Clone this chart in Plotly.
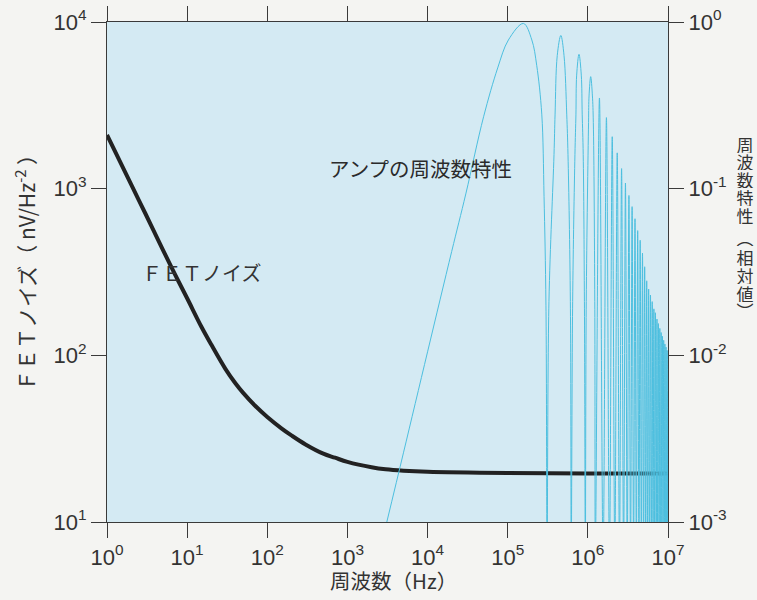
import plotly.graph_objects as go

# ---------------- data ----------------
fet_freq = [1, 2, 3, 5, 7, 10, 15, 20, 30, 40, 50, 70, 100, 150, 200, 300, 500, 700,
            1e3, 2e3, 3e3, 5e3, 1e4, 1e5, 1e6, 1e7]
fet_noise = [2100, 1060, 712, 428, 308, 220, 149, 116, 83, 68, 59.5, 50, 42.7, 36.5, 33.1, 29.2,
             25.7, 24.3, 22.95, 21.3, 20.7, 20.3, 20.0, 19.67, 19.56, 19.54]

# amplifier response: rise + main lobe, then side lobes (zeros drawn just below the axis floor)
amp_freq = [
    3.1e3, 5e3, 1e4, 2e4, 3e4, 5e4, 7.5e4, 1.02e5, 1.57e5, 2.0e5, 2.3e5, 2.66e5, 2.84e5, 3.0e5, 3.1e5,
    3.27e5, 3.78e5, 3.9e5, 4.15e5, 4.6e5, 5.04e5, 5.45e5, 5.65e5, 6.05e5, 6.2e5,
    6.46e5, 6.9e5, 7.1e5, 7.25e5, 7.75e5, 8.28e5, 8.5e5, 8.75e5, 9.06e5, 9.3e5,
    9.55e5, 1.02e6, 1.035e6, 1.085e6, 1.14e6, 1.17e6, 1.22e6, 1.24e6,
    1.395e6, 1.55e6, 1.705e6, 1.86e6, 2.015e6, 2.17e6, 2.325e6, 2.48e6,
    2.635e6, 2.79e6, 2.945e6, 3.1e6, 3.255e6, 3.41e6, 3.565e6, 3.72e6,
    3.875e6, 4.03e6, 4.185e6, 4.34e6, 4.495e6, 4.65e6, 4.805e6, 4.96e6,
    5.115e6, 5.27e6, 5.425e6, 5.58e6, 5.735e6, 5.89e6, 6.045e6, 6.2e6,
    6.355e6, 6.51e6, 6.665e6, 6.82e6, 6.975e6, 7.13e6, 7.285e6, 7.44e6,
    7.595e6, 7.75e6, 7.905e6, 8.06e6, 8.215e6, 8.37e6, 8.525e6, 8.68e6,
    8.835e6, 8.99e6, 9.145e6, 9.3e6, 9.455e6, 9.61e6, 9.765e6, 9.92e6, 1e7,
]
amp_resp = [
    1.0e-3, 2.6e-3, 1.05e-2, 4.2e-2, 9.3e-2, 0.27, 0.53, 0.78, 0.98, 0.78, 0.55, 0.28, 0.09, 0.02, 6e-4,
    0.021, 0.16, 0.28, 0.63, 0.83, 0.63, 0.28, 0.16, 0.021, 6e-4,
    0.021, 0.16, 0.28, 0.48, 0.64, 0.48, 0.28, 0.16, 0.021, 6e-4,
    0.021, 0.25, 0.36, 0.47, 0.36, 0.25, 0.021, 6e-4,
    0.35, 6e-4, 0.267, 6e-4, 0.205, 6e-4, 0.164, 6e-4,
    0.132, 6e-4, 0.108, 6e-4, 0.091, 6e-4, 0.078, 6e-4,
    0.066, 6e-4, 0.056, 6e-4, 0.049, 6e-4, 0.041, 6e-4,
    0.034, 6e-4, 0.028, 6e-4, 0.025, 6e-4, 0.023, 6e-4,
    0.021, 6e-4, 0.019, 6e-4, 0.018, 6e-4, 0.0165, 6e-4,
    0.0155, 6e-4, 0.0145, 6e-4, 0.0137, 6e-4, 0.013, 6e-4,
    0.0123, 6e-4, 0.0117, 6e-4, 0.0112, 6e-4, 0.0107, 6e-4, 0.006,
]

x_ticks = [1, 10, 100, 1e3, 1e4, 1e5, 1e6, 1e7]
x_ticktext = ["10<sup>0</sup>", "10<sup>1</sup>", "10<sup>2</sup>", "10<sup>3</sup>",
              "10<sup>4</sup>", "10<sup>5</sup>", "10<sup>6</sup>", "10<sup>7</sup>"]
yl_ticks = [10, 100, 1000, 10000]
yl_ticktext = ["10<sup>1</sup>", "10<sup>2</sup>", "10<sup>3</sup>", "10<sup>4</sup>"]
yr_ticks = [1e-3, 1e-2, 1e-1, 1]
yr_ticktext = ["10<sup>-3</sup>", "10<sup>-2</sup>", "10<sup>-1</sup>", "10<sup>0</sup>"]

right_title_chars = ["周", "波", "数", "特", "性", "︵", "相", "対", "値", "︶"]
right_title_ypx = [143.5, 161, 179, 197, 215, 237, 256.5, 275, 293, 310]

# ---------------- figure ----------------
JP = "Noto Sans CJK JP"
NUM = "Liberation Sans"
AX = "#3a3a3a"
W, H = 757, 600
L, R, T, B = 107, 89, 22, 78
PW, PH = W - L - R, H - T - B

def px2paper(xp, yp):
    return (xp - L) / PW, 1 - (yp - T) / PH

fig = go.Figure()
fig.add_trace(go.Scatter(x=amp_freq, y=amp_resp, yaxis="y2", mode="lines",
                         line=dict(color="#4cbfdf", width=1, shape="spline", smoothing=1),
                         showlegend=False, hoverinfo="skip"))
fig.add_trace(go.Scatter(x=fet_freq, y=fet_noise, mode="lines",
                         line=dict(color="#222222", width=4, shape="spline", smoothing=1),
                         showlegend=False))

tick_font = dict(family=NUM, size=22, color="#333333")
common = dict(ticks="outside", ticklen=15, tickwidth=1.2, tickcolor=AX,
              showline=True, linecolor=AX, linewidth=1.2, automargin=False,
              showgrid=False, zeroline=False, tickfont=tick_font)
fig.update_layout(
    width=W, height=H,
    margin=dict(l=L, r=R, t=T, b=B, autoexpand=False),
    paper_bgcolor="#f4f4f2",
    plot_bgcolor="#d4eaf3",
    xaxis=dict(type="log", range=[0, 7], tickvals=x_ticks, ticktext=x_ticktext,
               mirror="ticks", **common),
    yaxis=dict(type="log", range=[1, 4], tickvals=yl_ticks, ticktext=yl_ticktext, **common),
    yaxis2=dict(type="log", range=[-3, 0], overlaying="y", side="right",
                tickvals=yr_ticks, ticktext=yr_ticktext, **common),
)

ann = []
x, y = px2paper(420, 168)
ann.append(dict(text="アンプの周波数特性", x=x, y=y, font=dict(family=JP, size=20.5, color="#2b2b2b")))
x, y = px2paper(201, 272)
ann.append(dict(text="ＦＥＴノイズ", x=x, y=y, font=dict(family=JP, size=20, color="#333333")))
x, y = px2paper(25, 268)
ann.append(dict(text="ＦＥＴノイズ（ nV/Hz<sup>-2</sup> ）", x=x, y=y, textangle=-90,
                font=dict(family=JP, size=21, color="#333333")))
x, y = px2paper(393, 580)
ann.append(dict(text="周波数（Hz）", x=x, y=y, font=dict(family=JP, size=20.5, color="#333333")))
for ch, yp in zip(right_title_chars, right_title_ypx):
    x, y = px2paper(745, yp)
    ann.append(dict(text=ch, x=x, y=y, height=18, width=20,
                    font=dict(family=JP, size=17, color="#333333")))

for a in ann:
    a.update(xref="paper", yref="paper", showarrow=False, xanchor="center", yanchor="middle")
fig.update_layout(annotations=ann)

fig.write_html("out.html", config={"displayModeBar": False},
               post_script="document.body.style.margin='0px';")
